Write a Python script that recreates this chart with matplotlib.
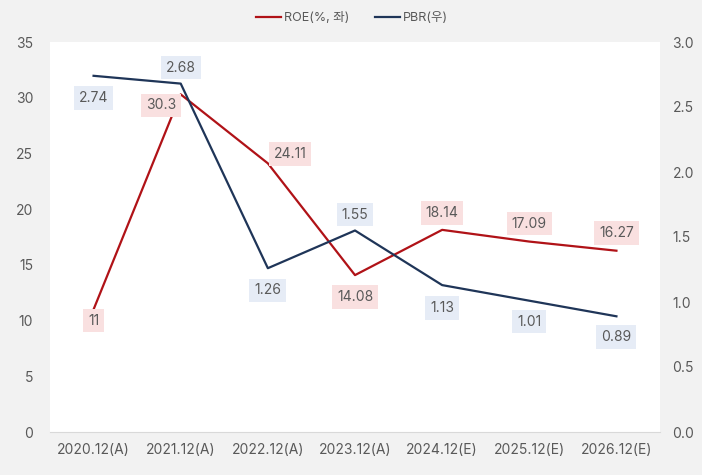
import matplotlib.pyplot as plt
import numpy as np

plt.rcParams['font.family'] = ['Inter', 'Noto Sans CJK KR', 'DejaVu Sans']

categories = ["2020.12(A)", "2021.12(A)", "2022.12(A)", "2023.12(A)",
              "2024.12(E)", "2025.12(E)", "2026.12(E)"]
roe = [11, 30.3, 24.11, 14.08, 18.14, 17.09, 16.27]
pbr = [2.74, 2.68, 1.26, 1.55, 1.13, 1.01, 0.89]
roe_labels = ["11", "30.3", "24.11", "14.08", "18.14", "17.09", "16.27"]
pbr_labels = ["2.74", "2.68", "1.26", "1.55", "1.13", "1.01", "0.89"]

red = "#b01217"
navy = "#1f3558"
txt = "#595959"
bg = "#f2f2f2"

fig = plt.figure(figsize=(7.02, 4.75), dpi=100)
fig.patch.set_facecolor(bg)
ax = fig.add_axes([50 / 702, 43 / 475, 610 / 702, 390 / 475])
ax2 = ax.twinx()
x = np.arange(len(categories))

l1, = ax.plot(x, roe, color=red, lw=1.6, label="ROE(%, 좌)")
l2, = ax2.plot(x, pbr, color=navy, lw=1.6, label="PBR(우)")

ax.set_xlim(-0.5, len(categories) - 0.5)
ax.set_ylim(0, 35)
ax.set_yticks(range(0, 36, 5))
ax2.set_ylim(0, 3.0)
ax2.set_yticks(np.arange(0, 3.01, 0.5))
ax2.set_yticklabels([f"{v:.1f}" for v in np.arange(0, 3.01, 0.5)])
ax.set_xticks(x)
ax.set_xticklabels(categories)

for a in (ax, ax2):
    for s in a.spines.values():
        s.set_visible(False)
    a.tick_params(length=0, labelsize=10, colors=txt)
ax.spines['bottom'].set_visible(True)
ax.spines['bottom'].set_color("#d9d9d9")
ax.tick_params(axis='y', pad=12)
ax2.tick_params(axis='y', pad=9)
ax.tick_params(axis='x', pad=8)

# label offsets in points (dx, dy)
roe_off = [(0, -8), (-14, -8), (16, 6.5), (0, -16), (0, 12), (0, 13), (0, 13)]
pbr_off = [(0, -16), (0, 11.5), (0, -16), (0, 11.5), (0, -16.5), (0, -15), (0, -15)]

for i in range(len(x)):
    ax.annotate(roe_labels[i], (x[i], roe[i]), xytext=roe_off[i], textcoords="offset points",
                ha="center", va="center", fontsize=10, color=txt,
                bbox=dict(boxstyle="square,pad=0.35", fc="#f9e0e0", ec="none"))
    ax2.annotate(pbr_labels[i], (x[i], pbr[i]), xytext=pbr_off[i], textcoords="offset points",
                 ha="center", va="center", fontsize=10, color=txt,
                 bbox=dict(boxstyle="square,pad=0.35", fc="#e6ecf6", ec="none"))

fig.legend(handles=[l1, l2], loc="center", bbox_to_anchor=(352 / 702, 1 - 18 / 475),
           ncol=2, frameon=False, fontsize=9, labelcolor=txt, handlelength=2.0,
           columnspacing=2.0, handletextpad=0.3)

fig.savefig("out.png", dpi=100, facecolor=bg)
